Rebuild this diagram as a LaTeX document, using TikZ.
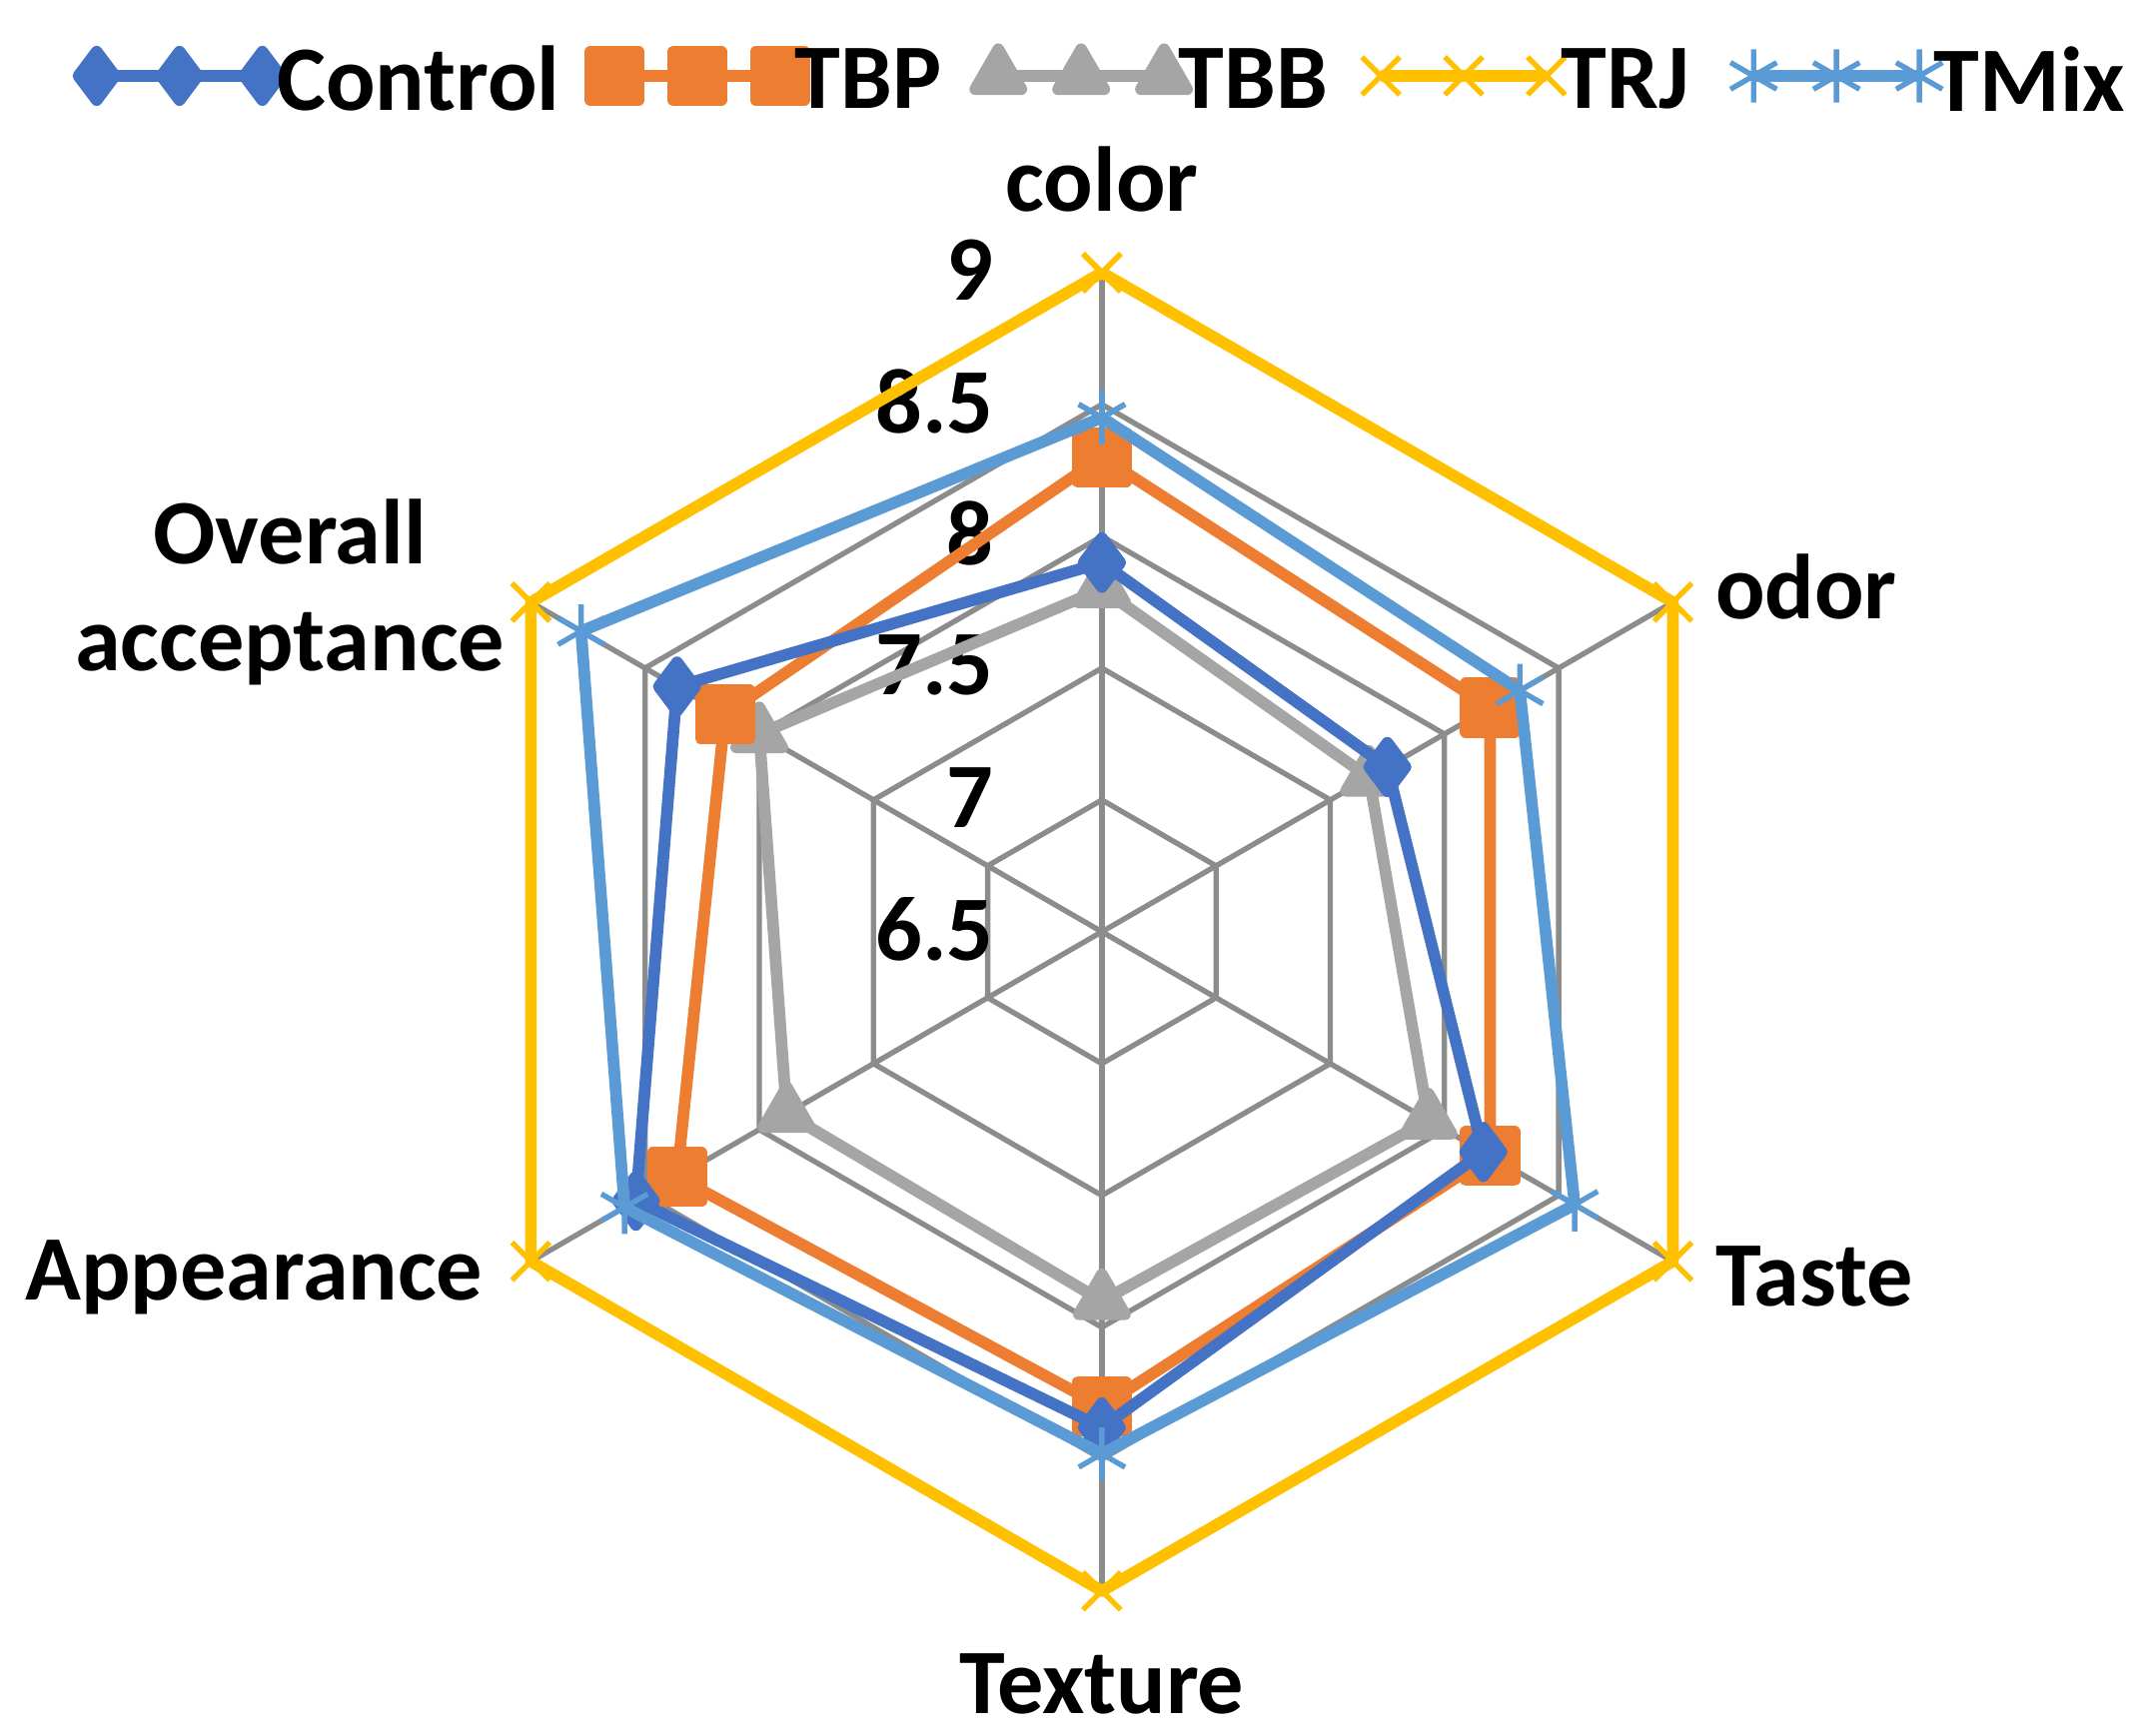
\documentclass[tikz,border=0pt]{standalone}
\usepackage{fontspec}
\setmainfont{Carlito}
\usetikzlibrary{plotmarks,calc}
\definecolor{cC}{HTML}{4472C4}
\definecolor{cP}{HTML}{ED7D31}
\definecolor{cB}{HTML}{A5A5A5}
\definecolor{cR}{HTML}{FFC000}
\definecolor{cM}{HTML}{5B9BD5}
\definecolor{gridc}{HTML}{8C8C8C}
\begin{document}
\begin{tikzpicture}[x=1cm,y=1cm,
  lbl/.style={font=\fontsize{19}{22}\selectfont\bfseries},
  grid/.style={gridc,line width=1.1pt},
  ser/.style={line width=2.4pt,line join=round},
  sC/.style={ser,cC,mark=diamond*,mark size=5pt},
  sP/.style={ser,cP,mark=square*,mark size=5pt},
  sB/.style={ser,cB,mark=triangle*,mark size=5.5pt},
  sR/.style={ser,cR,mark=x,mark size=5.5pt,mark options={line width=1.1pt}},
  sM/.style={ser,cM,mark=asterisk,mark size=5.5pt,mark options={line width=1.1pt}}]
\useasboundingbox (0,0) rectangle (15.6,12.57);
\coordinate (O) at (7.98,5.82);
% grid
\foreach \v in {7,7.5,8,8.5,9}{
  \draw[grid] ($(O)+(90:{(\v-6.5)*1.91})$) \foreach \a in {30,-30,-90,-150,150}{ -- ($(O)+(\a:{(\v-6.5)*1.91})$)} -- cycle;
}
\foreach \a in {90,30,-30,-90,-150,150}\draw[grid] (O) -- ($(O)+(\a:4.775)$);
% tick labels
\foreach \v/\t in {6.5/6.5,7/7,7.5/7.5,8/8,8.5/8.5,9/9}
  \node[lbl,anchor=east] (t\v) at ($(O)+(-0.66,{(\v-6.5)*1.91+0.02})$) {\t};
% series
\newcommand{\radar}[7]{%
  \draw[#1] plot coordinates {($(O)+(90:{(#2-6.5)*1.91})$) ($(O)+(30:{(#3-6.5)*1.91})$) ($(O)+(-30:{(#4-6.5)*1.91})$) ($(O)+(-90:{(#5-6.5)*1.91})$) ($(O)+(-150:{(#6-6.5)*1.91})$) ($(O)+(150:{(#7-6.5)*1.91})$) ($(O)+(90:{(#2-6.5)*1.91})$)};}
\radar{sR}{9}{9}{9}{9}{9}{9}
\radar{sB}{7.8}{7.67}{7.93}{7.9}{7.88}{8.0}
\radar{sP}{8.3}{8.2}{8.2}{8.3}{8.36}{8.15}
\radar{sC}{7.9}{7.75}{8.17}{8.38}{8.54}{8.36}
\radar{sM}{8.45}{8.33}{8.57}{8.48}{8.59}{8.78}
% axis labels
\node[lbl] (color) at (7.98,11.27) {color};
\node[lbl,anchor=west] (odor) at (12.3,8.32) {odor};
\node[lbl,anchor=west] (taste) at (12.3,3.32) {Taste};
\node[lbl] (texture) at (7.98,0.37) {Texture};
\node[lbl,anchor=east] (app) at (3.62,3.32) {Appearance};
\node[lbl,align=center] (oa) at (2.1,8.28) {Overall\\acceptance};
% legend
\foreach \x/\s/\t in {0.70/sC/Control,4.45/sP/TBP,7.23/sB/TBB,10.0/sR/TRJ,12.70/sM/TMix}{
  \draw[\s] plot coordinates {(\x,12.02) (\x+0.6,12.02) (\x+1.2,12.02)};
  \node[lbl,anchor=west,inner sep=0pt] (l\t) at (\x+1.3,12.0) {\t};
}
\end{tikzpicture}
\end{document}
